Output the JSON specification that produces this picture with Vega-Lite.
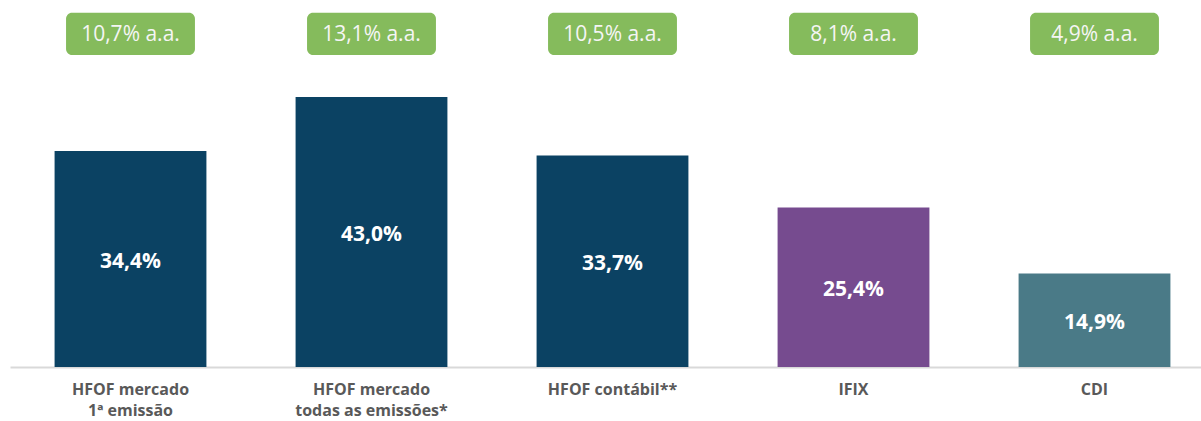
{
  "$schema": "https://vega.github.io/schema/vega-lite/v6.json",
  "width": 1205,
  "height": 367,
  "autosize": {"type": "none"},
  "padding": {"left": 10, "top": 0, "right": 0, "bottom": 54},
  "background": "white",
  "config": {"view": {"stroke": null}, "font": "Open Sans"},
  "data": {
    "values": [
      {"cat": "HFOF mercado|1ª emissão", "value": 34.4, "label": "34,4%", "rate": "10,7% a.a.", "group": "HFOF"},
      {"cat": "HFOF mercado|todas as emissões*", "value": 43.0, "label": "43,0%", "rate": "13,1% a.a.", "group": "HFOF"},
      {"cat": "HFOF contábil**", "value": 33.7, "label": "33,7%", "rate": "10,5% a.a.", "group": "HFOF"},
      {"cat": "IFIX", "value": 25.4, "label": "25,4%", "rate": "8,1% a.a.", "group": "IFIX"},
      {"cat": "CDI", "value": 14.9, "label": "14,9%", "rate": "4,9% a.a.", "group": "CDI"}
    ]
  },
  "encoding": {
    "x": {
      "field": "cat",
      "type": "nominal",
      "sort": null,
      "scale": {"paddingInner": 0.37, "paddingOuter": 0.185},
      "axis": {
        "title": null,
        "labelAngle": 0,
        "labelExpr": "split(datum.value, '|')",
        "labelFont": "Open Sans",
        "labelFontWeight": "bold",
        "labelFontSize": 16,
        "labelColor": "#595959",
        "labelPadding": 14,
        "labelLineHeight": 21,
        "ticks": false,
        "domainColor": "#d9d9d9",
        "domainWidth": 2
      }
    }
  },
  "layer": [
    {
      "mark": {"type": "bar"},
      "encoding": {
        "y": {"field": "value", "type": "quantitative", "scale": {"domain": [0, 58.45], "nice": false}, "axis": null},
        "color": {
          "field": "group",
          "type": "nominal",
          "scale": {"domain": ["HFOF", "IFIX", "CDI"], "range": ["#0b4263", "#764b8f", "#4a7a87"]},
          "legend": null
        }
      }
    },
    {
      "transform": [{"calculate": "datum.value / 2", "as": "mid"}],
      "mark": {"type": "text", "color": "white", "fontWeight": "bold", "fontSize": 21, "font": "Open Sans", "baseline": "middle", "dy": 3},
      "encoding": {
        "y": {"field": "mid", "type": "quantitative"},
        "text": {"field": "label"}
      }
    },
    {
      "mark": {"type": "bar", "color": "#85bb5c", "cornerRadius": 6, "width": {"band": 0.849}},
      "encoding": {
        "y": {"datum": 49.7},
        "y2": {"datum": 56.4}
      }
    },
    {
      "mark": {"type": "text", "color": "#f5f5f5", "fontSize": 21, "font": "Open Sans", "baseline": "middle", "dy": 1},
      "encoding": {
        "y": {"datum": 53.0},
        "text": {"field": "rate"}
      }
    }
  ]
}
